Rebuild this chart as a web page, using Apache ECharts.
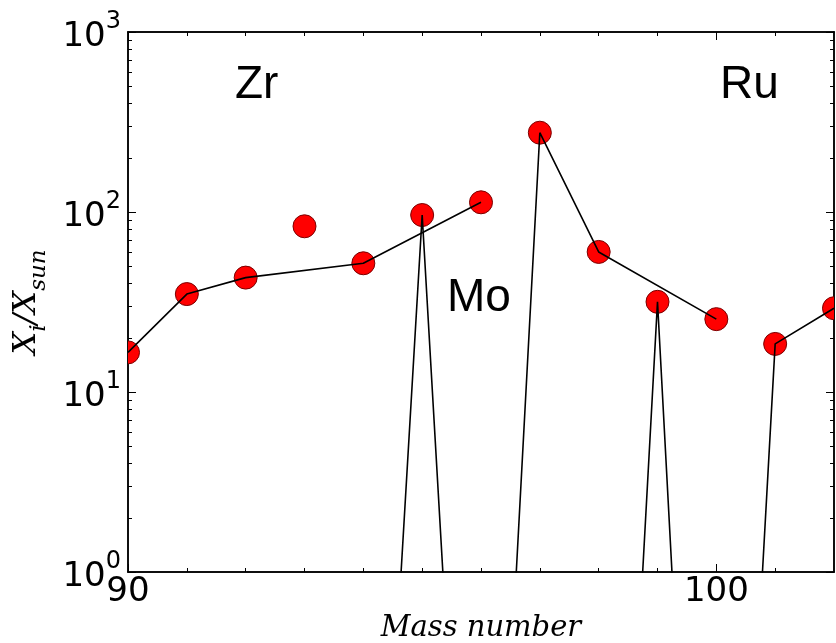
<!DOCTYPE html>
<html>
<head>
<meta charset="utf-8">
<script src="https://cdn.jsdelivr.net/npm/echarts@6/dist/echarts.min.js"></script>
<style>
  html, body { margin: 0; padding: 0; background: #fff; }
  #chart { width: 836px; height: 643px; }
</style>
</head>
<body>
<div id="chart"></div>
<script>
// Overabundance X_i / X_sun versus mass number (90-102)
const massNumbers = [90, 91, 92, 93, 94, 95, 96, 97, 98, 99, 100, 101, 102];
const overabundance = [16.6, 35.0, 43.2, 83.3, 51.9, 96.2, 113.2, 275.8, 60.0, 31.7, 25.4, 18.5, 29.2];

// Isotope chains drawn as lines
const zrMass = [90, 91, 92, 94, 96];
const zrValue = [16.6, 35.0, 43.2, 51.9, 113.2];
const moMass = [94, 95, 96, 97, 98, 100];
const moValue = [2.8e-4, 96.2, 2.2e-4, 275.8, 60.0, 25.4];
const ruMass = [98, 99, 100, 101, 102];
const ruValue = [3.5e-5, 31.7, 2.5e-5, 18.5, 29.2];

// Axis ticks
const xMajorTicks = [90, 100];
const xMinorTicks = [91, 92, 93, 94, 95, 96, 97, 98, 99, 101];
const yMajorTicks = [1, 10, 100, 1000];
const yMinorTicks = [2, 3, 4, 5, 6, 7, 8, 9, 20, 30, 40, 50, 60, 70, 80, 90, 200, 300, 400, 500, 600, 700, 800, 900];

const pairs = (xs, ys) => xs.map((x, i) => [x, ys[i]]);

const tickFont = 'DejaVu Sans';
const serif = 'DejaVu Serif';

function xAxisDef(position, ticks, len, extra) {
  return Object.assign({
    type: 'value', position: position, min: 90, max: 102,
    axisLine: { show: true, onZero: false, lineStyle: { color: '#000', width: 1.5 } },
    splitLine: { show: false },
    axisTick: { show: true, inside: true, length: len, customValues: ticks, lineStyle: { color: '#000', width: 1 } },
    axisLabel: { show: false }
  }, extra || {});
}
function yAxisDef(position, ticks, len, extra) {
  return Object.assign({
    type: 'log', logBase: 10, position: position, min: 1, max: 1000,
    axisLine: { show: true, onZero: false, lineStyle: { color: '#000', width: 1.5 } },
    splitLine: { show: false },
    axisTick: { show: true, inside: true, length: len, customValues: ticks, lineStyle: { color: '#000', width: 1 } },
    axisLabel: { show: false }
  }, extra || {});
}

const chart = echarts.init(document.getElementById('chart'), null, { renderer: 'canvas' });

chart.setOption({
  animation: false,
  backgroundColor: '#fff',
  grid: { left: 128, top: 32, right: 2, bottom: 71, containLabel: false, outerBoundsMode: 'none' },
  xAxis: [
    xAxisDef('bottom', xMajorTicks, 8, {
      axisLabel: {
        show: true, customValues: xMajorTicks, margin: 3,
        fontFamily: tickFont, fontSize: 34, color: '#000'
      },
      name: 'Mass number', nameLocation: 'middle', nameGap: 37,
      nameTextStyle: { fontFamily: serif, fontStyle: 'italic', fontSize: 29, color: '#000' }
    }),
    xAxisDef('bottom', xMinorTicks, 4),
    xAxisDef('top', xMajorTicks, 8),
    xAxisDef('top', xMinorTicks, 4)
  ],
  yAxis: [
    yAxisDef('left', yMajorTicks, 8, {
      axisLabel: {
        show: true, customValues: yMajorTicks, margin: 7,
        formatter: v => '{b|10}{s|' + Math.round(Math.log10(v)) + '}',
        rich: {
          b: { fontFamily: tickFont, fontSize: 34, color: '#000', lineHeight: 44, verticalAlign: 'bottom' },
          s: { fontFamily: tickFont, fontSize: 24, color: '#000', verticalAlign: 'top' }
        }
      },
      name: '{x|X}{s|i}{x|/X}{s|sun}', nameLocation: 'middle', nameGap: 77,
      nameTextStyle: {
        rich: {
          x: { fontFamily: serif, fontStyle: 'italic', fontSize: 32, color: '#000', lineHeight: 40, verticalAlign: 'top' },
          s: { fontFamily: serif, fontStyle: 'italic', fontSize: 23, color: '#000', lineHeight: 40, verticalAlign: 'bottom' }
        }
      }
    }),
    yAxisDef('left', yMinorTicks, 4),
    yAxisDef('right', yMajorTicks, 8),
    yAxisDef('right', yMinorTicks, 4)
  ],
  graphic: [
    { type: 'text', left: 235, top: 62, z: 10, style: { text: 'Zr', font: '46px "Liberation Sans"', fill: '#000' } },
    { type: 'text', left: 447, top: 275, z: 10, style: { text: 'Mo', font: '46px "Liberation Sans"', fill: '#000' } },
    { type: 'text', left: 720, top: 62, z: 10, style: { text: 'Ru', font: '46px "Liberation Sans"', fill: '#000' } }
  ],
  series: [
    {
      // circles drawn through a custom series so they are cut at the plot frame
      name: 'measured', type: 'custom', coordinateSystem: 'cartesian2d',
      data: pairs(massNumbers, overabundance), clip: true, z: 2,
      renderItem: function (params, api) {
        const p = api.coord([api.value(0), api.value(1)]);
        return {
          type: 'circle',
          shape: { cx: p[0], cy: p[1], r: 11.5 },
          style: { fill: '#ff0000', stroke: '#7a0000', lineWidth: 1 }
        };
      }
    },
    {
      name: 'Zr', type: 'line', data: pairs(zrMass, zrValue), showSymbol: false, symbol: 'none',
      clip: true, z: 3, lineStyle: { color: '#000', width: 1.6 }
    },
    {
      name: 'Mo', type: 'line', data: pairs(moMass, moValue), showSymbol: false, symbol: 'none',
      clip: true, z: 3, lineStyle: { color: '#000', width: 1.6 }
    },
    {
      name: 'Ru', type: 'line', data: pairs(ruMass, ruValue), showSymbol: false, symbol: 'none',
      clip: true, z: 3, lineStyle: { color: '#000', width: 1.6 }
    }
  ]
});
</script>
</body>
</html>
